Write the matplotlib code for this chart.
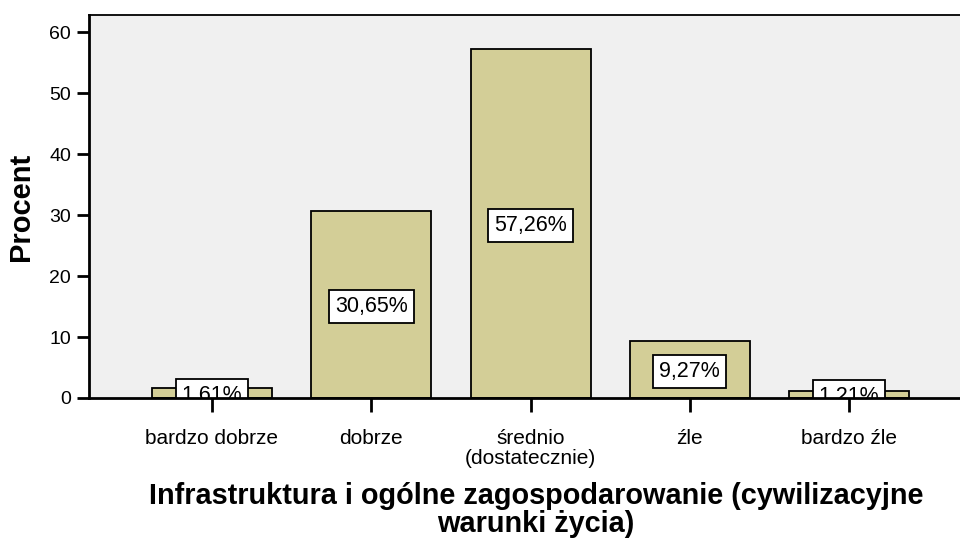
import matplotlib
matplotlib.use("Agg")
import matplotlib.pyplot as plt
import matplotlib.transforms as mtransforms

categories = ["bardzo dobrze", "dobrze", "średnio\n(dostatecznie)", "źle", "bardzo źle"]
values = [1.61, 30.65, 57.26, 9.27, 1.21]
labels = ["1,61%", "30,65%", "57,26%", "9,27%", "1,21%"]
yticks = [0, 10, 20, 30, 40, 50, 60]

plt.rcParams['font.family'] = ['Liberation Sans', 'DejaVu Sans']

fig = plt.figure(figsize=(9.6, 5.41), dpi=100)
ax = fig.add_axes([89/960, 1 - 398/541, 1 - 89/960, (398 - 15)/541])
ax.set_facecolor('#F0F0F0')

x = list(range(len(categories)))
ax.bar(x, values, width=0.753, color='#D3CE97', edgecolor='black', linewidth=1.3, zorder=2)

offset = mtransforms.ScaledTranslation(0, -2/100, fig.dpi_scale_trans)
for xi, v, lab in zip(x, values, labels):
    ax.text(xi, v / 2, lab, ha='center', va='center', fontsize=15.5, zorder=3,
            clip_on=True, transform=ax.transData + offset,
            bbox=dict(boxstyle='square,pad=0.28', facecolor='white', edgecolor='black', linewidth=1.3))

ax.set_xlim(-0.772, 4.696)
ax.set_ylim(0, 62.8)
ax.set_xticks(x)
ax.set_xticklabels(categories, fontsize=15, linespacing=1.1)
ax.set_yticks(yticks)
ax.set_yticklabels([str(t) for t in yticks], fontsize=14)
ax.tick_params(axis='x', length=10, width=2, pad=12, direction='out')
ax.tick_params(axis='y', length=9, width=2, pad=4, direction='out')

ax.spines['right'].set_visible(False)
ax.spines['left'].set_linewidth(2)
ax.spines['bottom'].set_linewidth(2)
ax.spines['top'].set_linewidth(1.3)
for s in ax.spines.values():
    s.set_zorder(5)

ax.set_ylabel('Procent', fontsize=21, fontweight='bold', labelpad=10)
fig.text(536/960, 1 - 510/541, 'Infrastruktura i ogólne zagospodarowanie (cywilizacyjne\nwarunki życia)',
         ha='center', va='center', fontsize=20.8, fontweight='bold', linespacing=1.0)

fig.savefig('out.png', dpi=100)
